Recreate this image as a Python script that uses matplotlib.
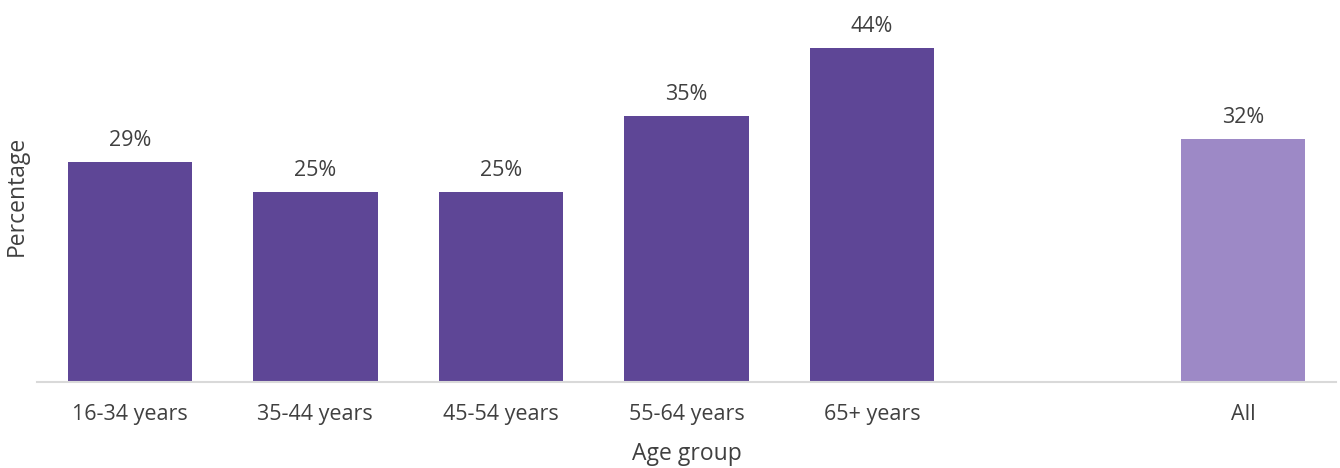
"""年齢層別の割合を棒グラフで描く."""

import matplotlib

matplotlib.use("Agg")
import matplotlib.pyplot as plt  # グラフ描画

# データ
age_groups = ["16-34 years", "35-44 years", "45-54 years", "55-64 years", "65+ years", "", "All"]
percentages = [29, 25, 25, 35, 44, None, 32]
bar_colors = ["#5e4696", "#5e4696", "#5e4696", "#5e4696", "#5e4696", None, "#9d89c6"]

TEXT_COLOR = "#404040"


def main():
    plt.rcParams["font.family"] = ["Open Sans", "DejaVu Sans"]

    fig = plt.figure(figsize=(13.4, 4.68), dpi=100)
    ax = fig.add_axes([0.0276, 0.1838, 0.9694, 0.7948])

    for i, (val, col) in enumerate(zip(percentages, bar_colors)):
        if val is None:
            continue
        ax.bar(i, val, width=0.67, color=col, zorder=2)
        ax.annotate(
            f"{val}%",
            xy=(i, val),
            xytext=(0, 8),
            textcoords="offset points",
            ha="center",
            va="bottom",
            fontsize=15.5,
            color=TEXT_COLOR,
        )

    ax.set_xlim(-0.5, len(age_groups) - 0.5)
    ax.set_ylim(0, 49)
    ax.set_xticks(range(len(age_groups)))
    ax.set_xticklabels(age_groups, fontsize=15.5, color=TEXT_COLOR)
    ax.tick_params(axis="x", length=0, pad=16)
    ax.set_yticks([])

    for side in ["top", "right", "left"]:
        ax.spines[side].set_visible(False)
    ax.spines["bottom"].set_color("#d9d9d9")
    ax.spines["bottom"].set_linewidth(1.5)

    ax.set_xlabel("Age group", fontsize=16.5, color=TEXT_COLOR, labelpad=12)
    ax.set_ylabel("Percentage", fontsize=16.5, color=TEXT_COLOR, labelpad=6)

    fig.savefig("out.png", dpi=100)


if __name__ == "__main__":
    main()
